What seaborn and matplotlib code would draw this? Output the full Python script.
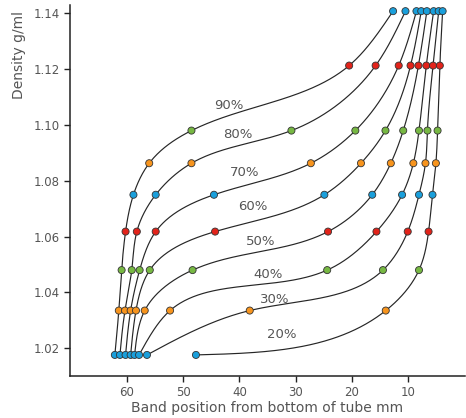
import numpy as np
import pandas as pd
import matplotlib
matplotlib.use("Agg")
import matplotlib.pyplot as plt
import seaborn as sns

# ---------------- data ----------------
density_levels = [1.0176, 1.0335, 1.048, 1.0618, 1.075, 1.0863, 1.098, 1.1213, 1.1408]
level_colors = ["#1a9fdb", "#f7941d", "#77b843", "#e2231a",
                "#1a9fdb", "#f7941d", "#77b843", "#e2231a", "#1a9fdb"]

curve_names = ["90%", "80%", "70%", "60%", "50%", "40%", "30%", "20%"]
pos_90 = [62.1, 61.4, 60.9, 60.2, 58.8, 56.0, 48.5, 20.5, 12.7]
pos_80 = [61.2, 60.3, 59.1, 58.2, 54.85, 48.5, 30.75, 15.8, 10.5]
pos_70 = [60.2, 59.3, 57.7, 54.85, 44.5, 27.3, 19.4, 11.7, 8.55]
pos_60 = [59.3, 58.35, 55.9, 44.3, 24.9, 18.4, 14.05, 9.6, 7.7]
pos_50 = [58.6, 56.8, 48.3, 24.25, 16.4, 13.1, 10.9, 8.2, 6.7]
pos_40 = [57.8, 52.3, 24.4, 15.65, 11.1, 9.1, 8.1, 6.8, 5.5]
pos_30 = [56.4, 38.15, 14.5, 10.1, 8.1, 6.95, 6.6, 5.6, 4.6]
pos_20 = [47.7, 14.0, 8.1, 6.4, 5.7, 5.1, 4.8, 4.4, 3.9]
curve_positions = [pos_90, pos_80, pos_70, pos_60, pos_50, pos_40, pos_30, pos_20]

label_x = [41.8, 40.2, 39.0, 37.6, 36.15, 34.9, 33.7, 32.4]
label_y = [1.1069, 1.0965, 1.0829, 1.0707, 1.0584, 1.0464, 1.0374, 1.0249]

x_ticks = [60, 50, 40, 30, 20, 10]
y_ticks = [1.02, 1.04, 1.06, 1.08, 1.10, 1.12, 1.14]


# ---------------- smoothing helper (natural cubic spline, parametric) ----------------
def natural_cubic(t, v, tt):
    n = len(t)
    h = np.diff(t)
    A = np.zeros((n, n))
    b = np.zeros(n)
    A[0, 0] = 1.0
    A[-1, -1] = 1.0
    for i in range(1, n - 1):
        A[i, i - 1] = h[i - 1]
        A[i, i] = 2 * (h[i - 1] + h[i])
        A[i, i + 1] = h[i]
        b[i] = 6 * ((v[i + 1] - v[i]) / h[i] - (v[i] - v[i - 1]) / h[i - 1])
    M = np.linalg.solve(A, b)
    idx = np.clip(np.searchsorted(t, tt) - 1, 0, n - 2)
    t0, t1 = t[idx], t[idx + 1]
    hh = t1 - t0
    a = (t1 - tt) / hh
    c = (tt - t0) / hh
    return (a * v[idx] + c * v[idx + 1]
            + ((a ** 3 - a) * M[idx] + (c ** 3 - c) * M[idx + 1]) * hh ** 2 / 6.0)


def smooth_curve(xs, ys, sx=5.632, sy=2795.0, n=400):
    X = np.asarray(xs) * sx
    Y = np.asarray(ys) * sy
    d = np.sqrt(np.diff(X) ** 2 + np.diff(Y) ** 2)
    t = np.concatenate([[0], np.cumsum(d)])
    tt = np.linspace(0, t[-1], n)
    return natural_cubic(t, X, tt) / sx, natural_cubic(t, Y, tt) / sy


# ---------------- build tables ----------------
pts_rows = []
line_rows = []
for name, pos in zip(curve_names, curve_positions):
    for j, (p, d) in enumerate(zip(pos, density_levels)):
        pts_rows.append({"curve": name, "pos": p, "density": d, "level": j})
    sxv, syv = smooth_curve(pos, density_levels)
    for k, (a, b) in enumerate(zip(sxv, syv)):
        line_rows.append({"curve": name, "pos": a, "density": b, "order": k})
pts = pd.DataFrame(pts_rows)
lines = pd.DataFrame(line_rows)

# ---------------- plot ----------------
sns.set_style("ticks")
plt.rcParams["font.family"] = ["DejaVu Sans"]

fig = plt.figure(figsize=(4.66, 4.18), dpi=100)
ax = fig.add_axes([0.151, 0.1015, 0.846, 0.8865])

sns.lineplot(data=lines, x="pos", y="density", units="curve", estimator=None,
             sort=False, color="#262626", linewidth=0.85, ax=ax, legend=False)
sns.scatterplot(data=pts, x="pos", y="density", hue="level",
                palette=level_colors, s=26, edgecolor="#333333", linewidth=0.6,
                ax=ax, legend=False, zorder=5)

for name, lx, ly in zip(curve_names, label_x, label_y):
    ax.text(lx, ly, name, ha="center", va="center", fontsize=9.5, color="#555555")

ax.set_xlim(70, 0)
ax.set_ylim(1.0102, 1.143)
ax.set_xticks(x_ticks)
ax.set_xticklabels([str(v) for v in x_ticks])
ax.set_yticks(y_ticks)
ax.set_yticklabels([f"{v:.2f}" for v in y_ticks])
ax.tick_params(axis="both", labelsize=8.5, labelcolor="#555555", length=4,
               width=1.0, color="#222222")

for s in ["top", "right"]:
    ax.spines[s].set_visible(False)
for s in ["left", "bottom"]:
    ax.spines[s].set_color("#222222")
    ax.spines[s].set_linewidth(1.1)

ax.set_xlabel("Band position from bottom of tube mm", fontsize=10, color="#555555",
              labelpad=1.5)
ax.set_ylabel("Density g/ml", fontsize=10, color="#555555")
ax.yaxis.set_label_coords(-0.112, 0.865)

fig.savefig("out.png", dpi=100)
